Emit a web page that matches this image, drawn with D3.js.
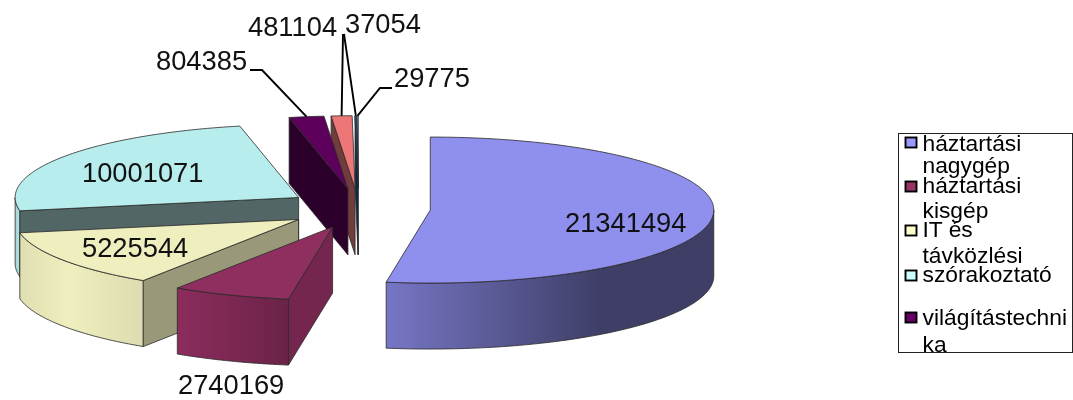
<!DOCTYPE html>
<html>
<head>
<meta charset="utf-8">
<script src="https://d3js.org/d3.v7.min.js"></script>
<style>
  html, body { margin: 0; padding: 0; background: #fff; overflow: hidden; }
  svg { display: block; filter: blur(0.55px); font-family: "Liberation Sans", Arial, sans-serif; }
</style>
</head>
<body>
<script>
// Values, clockwise from 12 o'clock
var values = [21341494, 2740169, 5225544, 10001071, 804385, 481104, 37054, 29775];

// Legend only shows the first five entries, wrapped like the original
var legendNames = [
    ['háztartási', 'nagygép'],
    ['háztartási', 'kisgép'],
    ['IT és', 'távközlési'],
    ['szórakoztató'],
    ['világítástechni', 'ka']
];

// Colours per slice
var legendColors = ['#9999ff', '#993366', '#ffffcc', '#ccffff', '#660066', '#ff8080', '#0066cc', '#ccccff'];
var topColors    = ['#8f8fee', '#8f2f5f', '#eeeebe', '#b8eded', '#5c005c', '#ed7777', '#1060b8', '#c0c0ee'];
var sideColors   = ['#3e3e66', '#74264f', '#99997a', '#526666', '#2b002b', '#703c3c', '#002952', '#9a9aaa'];
var rimStops = [
    [[0, '#7676c6'], [0.66, '#3e3e66'], [1, '#3e3e66']],
    [[0, '#8c2c5d'], [1, '#6b2347']],
    [[0, '#dfdfb2'], [0.4, '#eeeebe'], [1, '#dcdcb0']],
    [[0, '#a4d6d6'], [1, '#b4e2e2']]
];

// Layout
var cx = 358.5, cy = 208.5,   // pie centre before exploding
    rx = 283.5, ry = 73,      // ellipse of the top face
    depth = 66,
    explodeX = 72, explodeY = 19.8;

// Where the value labels sit: [left x, baseline y]
var labelPos = [[565, 232], [178, 394], [82, 257], [82, 182], [156, 70], [248, 36], [345, 33], [394, 87]];
// Leader lines: label-side points for the small slices
var leaderStart = { 4: [[250, 70], [262, 70]], 5: [[343, 34]], 6: [[344, 34]], 7: [[392, 88], [380, 88]] };

var legendBox = { x: 898.5, y: 133.5, width: 174, height: 219 };
var legendSwatchY = [137, 181, 225, 270, 312];
var legendBaselines = [[151, 173], [193, 218], [237, 263], [282], [325, 352]];

var svg = d3.select('body').append('svg')
    .attr('width', 1073)
    .attr('height', 400);
var defs = svg.append('defs');

var pie = d3.pie().sort(null).value(function(d) { return d; }).startAngle(0).endAngle(2 * Math.PI);
var slices = pie(values).map(function(d, i) {
    var mid = (d.startAngle + d.endAngle) / 2;
    return {
        i: i,
        value: d.value,
        a0: d.startAngle,
        a1: d.endAngle,
        mid: mid,
        x: cx + explodeX * Math.sin(mid),
        y: cy - explodeY * Math.cos(mid)
    };
});

function pt(s, a, dy) {
    return [s.x + rx * Math.sin(a), s.y - ry * Math.cos(a) + (dy || 0)];
}

// Sampled points along the rim between two angles
function rimPoints(s, a0, a1, dy) {
    var n = Math.max(2, Math.ceil((a1 - a0) / 0.02));
    return d3.range(n + 1).map(function(k) {
        return pt(s, a0 + (a1 - a0) * k / n, dy);
    });
}

var line = d3.line();

rimStops.forEach(function(stops, i) {
    var g = defs.append('linearGradient').attr('id', 'rim' + i);
    stops.forEach(function(st) {
        g.append('stop').attr('offset', st[0]).attr('stop-color', st[1]);
    });
});

// Back slices first, so the front ones paint over them
var order = slices.slice().sort(function(a, b) { return a.y - b.y; });

var groups = svg.selectAll('.slice').data(order).enter()
    .append('g')
    .attr('class', 'slice')
    .attr('stroke', '#2a2a2a')
    .attr('stroke-width', 0.8)
    .attr('stroke-linejoin', 'round');

groups.each(function(s) {
    var g = d3.select(this);

    // Outer wall: only the part of the rim that faces the viewer
    var from = Math.max(s.a0, Math.PI / 2), to = Math.min(s.a1, 3 * Math.PI / 2);
    if (to > from) {
        var rim = rimPoints(s, from, to, 0).concat(rimPoints(s, from, to, depth).reverse());
        g.append('path')
            .attr('d', line(rim) + 'Z')
            .attr('fill', rimStops[s.i] ? 'url(#rim' + s.i + ')' : sideColors[s.i]);
    }

    // Cut wall at the start angle, visible on the left half of the pie
    if (Math.sin(s.a0) < 0) {
        var outer = pt(s, s.a0, 0);
        g.append('path')
            .attr('d', line([[s.x, s.y], outer, [outer[0], outer[1] + depth], [s.x, s.y + depth]]) + 'Z')
            .attr('fill', sideColors[s.i]);
    }

    // Top face
    g.append('path')
        .attr('d', line([[s.x, s.y]].concat(rimPoints(s, s.a0, s.a1, 0))) + 'Z')
        .attr('fill', topColors[s.i]);
});

// Leader lines, ending on the middle of the slice's outer edge
Object.keys(leaderStart).forEach(function(k) {
    var s = slices[k];
    svg.append('path')
        .attr('d', line(leaderStart[k].concat([pt(s, s.mid, 0)])))
        .attr('fill', 'none')
        .attr('stroke', '#000')
        .attr('stroke-width', 1.9);
});

// Value labels
svg.selectAll('.value').data(slices).enter()
    .append('text')
    .attr('class', 'value')
    .attr('x', function(d) { return labelPos[d.i][0]; })
    .attr('y', function(d) { return labelPos[d.i][1]; })
    .attr('font-size', 27.3)
    .attr('fill', '#111')
    .text(function(d) { return d.value; });

// Legend
svg.append('rect')
    .attr('x', legendBox.x)
    .attr('y', legendBox.y)
    .attr('width', legendBox.width)
    .attr('height', legendBox.height)
    .attr('fill', '#fff')
    .attr('stroke', '#222')
    .attr('stroke-width', 1);

defs.append('clipPath').attr('id', 'legendClip').append('rect')
    .attr('x', legendBox.x)
    .attr('y', legendBox.y)
    .attr('width', legendBox.width)
    .attr('height', legendBox.height);

var legend = svg.append('g').attr('clip-path', 'url(#legendClip)');

legendNames.forEach(function(lines, i) {
    legend.append('rect')
        .attr('x', 905.5)
        .attr('y', legendSwatchY[i] + 0.5)
        .attr('width', 11)
        .attr('height', 10)
        .attr('fill', legendColors[i])
        .attr('stroke', '#000')
        .attr('stroke-width', 1.9);
    lines.forEach(function(t, j) {
        legend.append('text')
            .attr('x', 922.5)
            .attr('y', legendBaselines[i][j])
            .attr('font-size', 22.8)
            .attr('fill', '#000')
            .text(t);
    });
});
</script>
</body>
</html>
